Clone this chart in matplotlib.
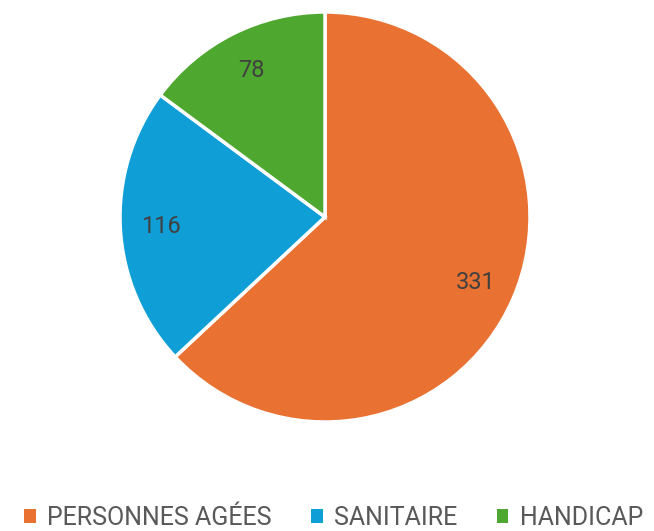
import matplotlib.pyplot as plt
from matplotlib.patches import Patch

# data
categories = ["PERSONNES AGÉES", "SANITAIRE", "HANDICAP"]
values = [331, 116, 78]
colors = ["#E97132", "#0F9ED5", "#4EA72E"]

plt.rcParams["font.family"] = ["Roboto", "DejaVu Sans"]

W, H = 654, 531
fig = plt.figure(figsize=(W / 100, H / 100), dpi=100)

cx, cy, r = 325, 217, 205
ax = fig.add_axes([(cx - r) / W, (H - cy - r) / H, 2 * r / W, 2 * r / H])

ax.pie(
    values,
    colors=colors,
    startangle=90,
    counterclock=False,
    labels=[str(v) for v in values],
    labeldistance=0.8,
    textprops=dict(color="#404040", fontsize=17, ha="center", va="center"),
    wedgeprops=dict(edgecolor="white", linewidth=2.5),
    radius=1,
)
ax.set_xlim(-1.0, 1.0)
ax.set_ylim(-1.0, 1.0)
ax.set_aspect("equal")
ax.axis("off")

handles = [Patch(facecolor=c, edgecolor="none") for c in colors]
fig.legend(
    handles,
    categories,
    loc="center",
    bbox_to_anchor=(0.51, (H - 518) / H),
    ncol=3,
    frameon=False,
    fontsize=18,
    labelcolor="#595959",
    handlelength=0.45,
    handleheight=0.45,
    handletextpad=0.45,
    columnspacing=1.6,
    borderpad=0.2,
)

fig.savefig("out.png", dpi=100)
